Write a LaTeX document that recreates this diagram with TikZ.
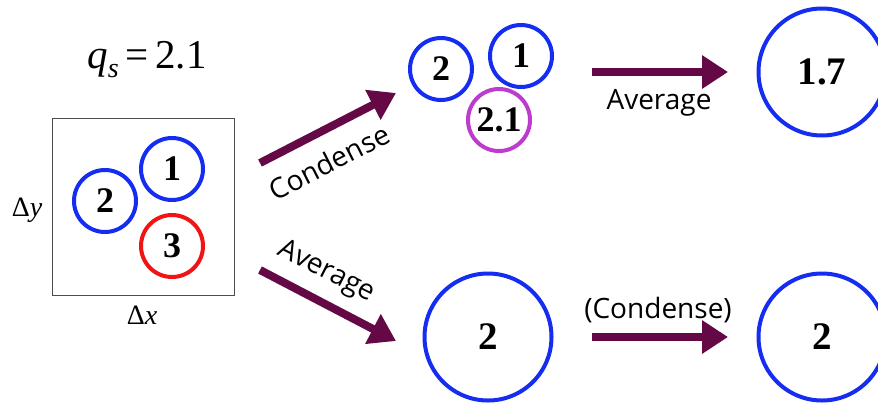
\documentclass[tikz,border=0pt]{standalone}
\usepackage{fontspec}
\setmainfont{Liberation Serif}
\setsansfont{Open Sans}
\usetikzlibrary{arrows.meta}
\definecolor{cblue}{RGB}{20,45,240}
\definecolor{cred}{RGB}{240,20,20}
\definecolor{cmag}{RGB}{190,60,205}
\definecolor{carrow}{RGB}{100,8,70}
\begin{document}
\begin{tikzpicture}[x=1pt,y=-1pt,
 drop/.style={circle,draw,line width=4pt,inner sep=0pt,minimum size=62pt,font=\fontsize{36}{36}\selectfont\bfseries},
 bigdrop/.style={drop,minimum size=127pt,font=\fontsize{39}{39}\selectfont\bfseries},
 bigarrow/.style={draw=carrow,line width=8pt,-{Triangle[length=26pt,width=32pt]}},
 lab/.style={font=\sffamily\fontsize{28}{28}\selectfont,inner sep=0pt},
 axlab/.style={font=\fontsize{28}{28}\selectfont,inner sep=0pt},
]
\useasboundingbox (0,0) rectangle (878,405);
% grid cell
\node[draw=black!70,line width=1pt,minimum width=182pt,minimum height=177pt,inner sep=0pt] (cell) at (143,206.5) {};
\node[axlab] (dy) at (27,210) {Δ\textit{y}};
\node[axlab] (dx) at (142,315) {Δ\textit{x}};
\node[inner sep=0pt,font=\fontsize{41}{41}\selectfont] (qs) at (147,60) {\textit{q}\raisebox{-0.22em}{\fontsize{28}{28}\selectfont\textit{s}}\,=\,2.1};
% drops in cell
\node[drop,draw=cblue] (a1) at (172,169) {1};
\node[drop,draw=cblue] (a2) at (105,201) {2};
\node[drop,draw=cred] (a3) at (172,246) {3};
% condensed cluster
\node[drop,draw=cblue] (b2) at (441,69) {2};
\node[drop,draw=cblue] (b1) at (521,56) {1};
\node[drop,draw=cmag] (b3) at (499,120) {2.1};
% results
\node[bigdrop,draw=cblue] (c1) at (822,72) {1.7};
\node[bigdrop,draw=cblue] (d1) at (488,337) {2};
\node[bigdrop,draw=cblue] (d2) at (822,337) {2};
% arrow ends
\coordinate (p1s) at (260,163);
\coordinate (p1e) at (396,93);
\coordinate (p2s) at (260,270);
\coordinate (p2e) at (396,341);
\coordinate (p3s) at (592,72);
\coordinate (p3e) at (728,72);
\coordinate (p4s) at (592,337);
\coordinate (p4e) at (728,337);
\draw[bigarrow] (p1s) -- (p1e);
\draw[bigarrow] (p2s) -- (p2e);
\draw[bigarrow] (p3s) -- (p3e);
\draw[bigarrow] (p4s) -- (p4e);
% labels
\node[lab,rotate=27] (l1) at (329,162) {Condense};
\node[lab,rotate=-27] (l2) at (326,272) {Average};
\node[lab] (l3) at (659,103) {Average};
\node[lab] (l4) at (658,310) {(Condense)};
\end{tikzpicture}
\end{document}
